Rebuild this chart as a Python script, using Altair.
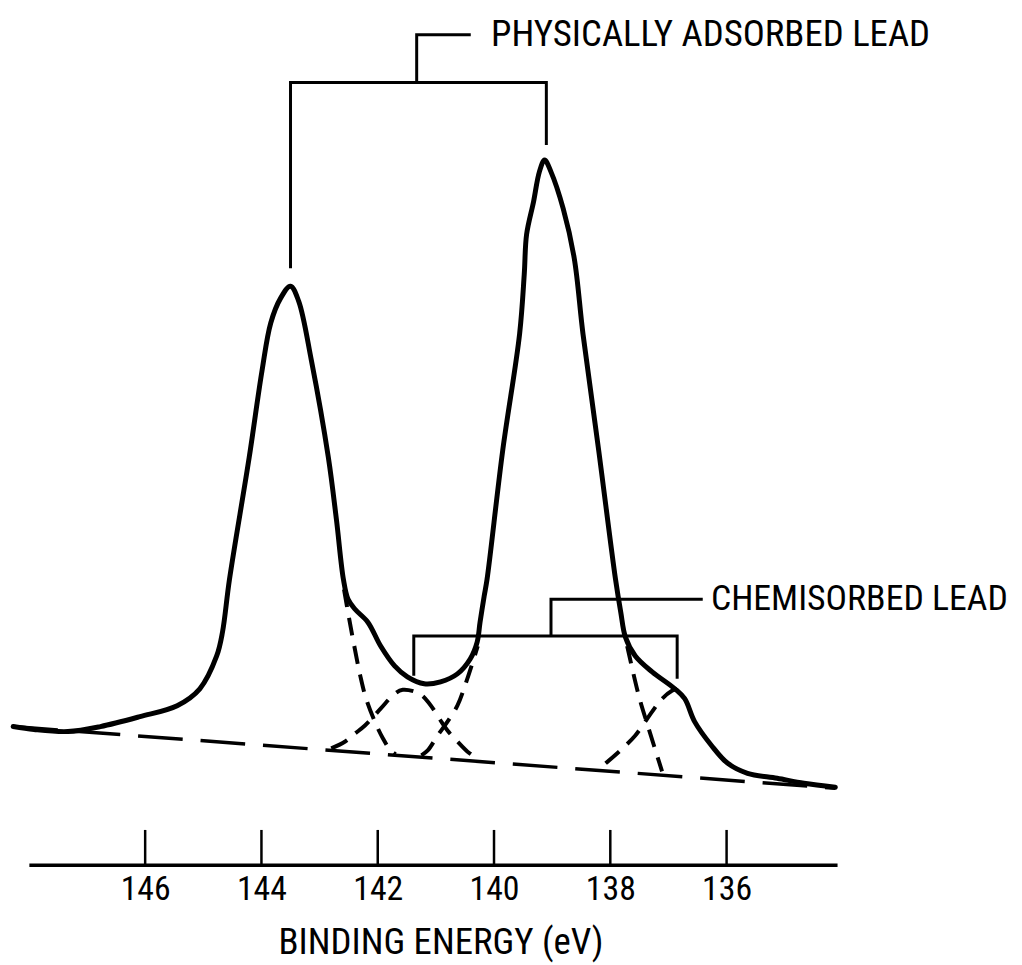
import altair as alt
import pandas as pd

# ---- data (binding energy in eV, intensity in arbitrary units) ----
solid_ev = [148.27, 147.91, 147.33, 146.77, 146.09, 145.45, 145.06, 144.77, 144.67, 144.55,
            144.21, 143.99, 143.84, 143.67, 143.50, 143.36, 143.14, 142.85, 142.71, 142.59,
            142.51, 142.39, 142.17, 141.95, 141.71, 141.49, 141.20, 140.92, 140.63, 140.41,
            140.29, 140.24, 140.17, 140.12, 139.85, 139.56, 139.48, 139.44, 139.32, 139.22,
            139.13, 139.02, 138.81, 138.62, 138.47, 138.20, 137.91, 137.82, 137.74, 137.57,
            137.28, 136.89, 136.72, 136.55, 136.26, 135.98, 135.64, 135.13, 134.67, 134.13]
solid_int = [139, 136, 134, 139, 149, 160, 177, 210, 234, 287,
             410, 497, 545, 570, 582, 567, 507, 410, 347, 287,
             267, 257, 244, 220, 200, 189, 182, 184, 192, 207,
             224, 244, 270, 287, 417, 534, 594, 634, 667, 697,
             709, 697, 660, 610, 534, 417, 287, 254, 229, 210,
             194, 177, 167, 144, 120, 102, 92, 87, 82, 78]

baseline_ev = [148.27, 134.13]
baseline_int = [139, 77]

# fitted components (dashed)
phys1_tail_ev = [142.58, 142.49, 142.41, 142.30, 142.20, 142.05, 141.91, 141.78, 141.69]
phys1_tail_int = [277, 247, 222, 190, 167, 144, 127, 115, 111]

chem1_ev = [142.80, 142.56, 142.39, 142.22, 141.95, 141.71, 141.57, 141.28, 141.11,
            140.94, 140.80, 140.63, 140.46, 140.24]
chem1_int = [117, 124, 132, 140, 157, 172, 176, 172, 162, 147, 135, 124, 114, 105]

phys2_left_ev = [140.28, 140.46, 140.63, 140.80, 140.97, 141.14, 141.25]
phys2_left_int = [220, 187, 160, 144, 130, 115, 110]

phys2_right_ev = [137.71, 137.51, 137.34, 137.11]
phys2_right_int = [220, 170, 137, 94]

chem2_ev = [138.08, 137.79, 137.57, 137.28, 137.11, 136.94, 136.85]
chem2_int = [102, 117, 130, 154, 167, 175, 177]

tick_values = [146, 144, 142, 140, 138, 136]

# annotation brackets
phys_bracket_ev = [143.50, 143.50, 139.10, 139.10]
phys_bracket_int = [600, 787, 787, 724]
phys_leader_ev = [141.33, 141.33, 140.40]
phys_leader_int = [787, 835, 835]
chem_bracket_ev = [141.38, 141.38, 136.85, 136.85]
chem_bracket_int = [190, 230, 230, 187]
chem_leader_ev = [139.02, 139.02, 136.41]
chem_leader_int = [230, 267, 267]

labels_text = ["PHYSICALLY ADSORBED LEAD", "CHEMISORBED LEAD"]
labels_ev = [140.05, 136.27]
labels_int = [835, 267]
labels_size = [37, 36]

FONT = "Roboto Condensed, DejaVu Sans Condensed, Roboto, sans-serif"

X = alt.Scale(domain=[134.1, 148], reverse=True, nice=False, zero=False)
Y = alt.Scale(domain=[0, 857], nice=False, zero=False)

X_AXIS = alt.Axis(
    values=tick_values, format="d", ticks=False, tickSize=0, grid=False,
    domain=True, domainColor="black", domainWidth=3.5,
    labelFont=FONT, labelFontSize=34, labelColor="black", labelPadding=8,
    labelFlush=False,
    title="BINDING ENERGY (eV)", titleFont=FONT, titleFontSize=37,
    titleFontWeight="normal", titleColor="black",
    titleBaseline="alphabetic", titleY=89, titleX=414,
)


def df(ev, inten):
    return pd.DataFrame({"ev": ev, "i": inten, "k": list(range(len(ev)))})


def xenc():
    return alt.X("ev:Q", scale=X, axis=X_AXIS)


def yenc():
    return alt.Y("i:Q", scale=Y, axis=None)


baseline = alt.Chart(df(baseline_ev, baseline_int)).mark_line(
    color="black", strokeWidth=3.5, strokeDash=[45, 18]
).encode(x=xenc(), y=yenc())


def dashed(ev, inten):
    return alt.Chart(df(ev, inten)).mark_line(
        color="black", strokeWidth=4, strokeDash=[18, 11], interpolate="catmull-rom"
    ).encode(x=xenc(), y=yenc())


comps = [
    dashed(phys1_tail_ev, phys1_tail_int),
    dashed(chem1_ev, chem1_int),
    dashed(phys2_left_ev, phys2_left_int),
    dashed(phys2_right_ev, phys2_right_int),
    dashed(chem2_ev, chem2_int),
]

solid = alt.Chart(df(solid_ev, solid_int)).mark_line(
    color="black", strokeWidth=5, interpolate="catmull-rom", strokeJoin="round", strokeCap="round"
).encode(x=xenc(), y=yenc())


def path(ev, inten):
    return alt.Chart(df(ev, inten)).mark_line(
        color="black", strokeWidth=3, strokeJoin="miter"
    ).encode(x=xenc(), y=yenc(), order=alt.Order("k:Q"))


brackets = [
    path(phys_bracket_ev, phys_bracket_int),
    path(phys_leader_ev, phys_leader_int),
    path(chem_bracket_ev, chem_bracket_int),
    path(chem_leader_ev, chem_leader_int),
]

ticks = alt.Chart(pd.DataFrame({"ev": tick_values})).mark_rule(
    color="black", strokeWidth=2.5
).encode(x=xenc(), y=alt.value(857), y2=alt.value(822))

texts = alt.Chart(pd.DataFrame({"ev": labels_ev, "i": labels_int, "t": labels_text,
                                "s": labels_size})).mark_text(
    align="left", baseline="middle", font=FONT, color="black"
).encode(x=xenc(), y=yenc(), text="t:N", size=alt.Size("s:Q", scale=None, legend=None))

chart = alt.layer(baseline, *comps, solid, *brackets, ticks, texts).properties(
    width=813, height=857,
    autosize=alt.AutoSizeParams(type="none"),
    padding={"left": 21, "top": 2, "right": 178, "bottom": 96},
).configure_view(stroke=None)

chart.save("out.html", embed_options={"renderer": "svg", "actions": False})
